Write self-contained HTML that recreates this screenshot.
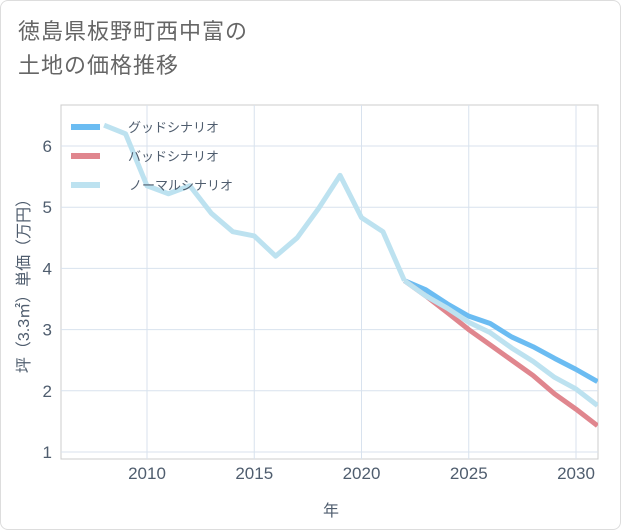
<!DOCTYPE html>
<html><head><meta charset="utf-8"><style>
body{margin:0;background:#fff;}
#wrap{position:relative;width:621px;height:530px;box-sizing:border-box;border:1px solid #ddd;border-radius:8px;overflow:hidden;font-family:"Liberation Sans","Noto Sans CJK JP",sans-serif;}
#title{position:absolute;left:17px;top:14px;font-size:22px;line-height:34px;color:#666;letter-spacing:1px;}
</style></head><body>
<div id="wrap">
<div id="title">徳島県板野町西中富の<br>土地の価格推移</div>
<svg id="chart" width="621" height="530" style="position:absolute;left:0;top:0"></svg>
</div>
<script>
const histYears=[2008,2009,2010,2011,2012,2013,2014,2015,2016,2017,2018,2019,2020,2021,2022];
const histValues=[6.34,6.2,5.35,5.22,5.35,4.9,4.6,4.53,4.2,4.5,4.98,5.52,4.83,4.6,3.8];
const futYears=[2022,2023,2024,2025,2026,2027,2028,2029,2030,2031];
const goodValues=[3.8,3.65,3.42,3.22,3.1,2.88,2.72,2.53,2.35,2.15];
const badValues=[3.8,3.55,3.28,3.0,2.75,2.5,2.25,1.95,1.7,1.43];
const normalValues=[3.8,3.55,3.35,3.12,2.95,2.7,2.48,2.22,2.03,1.76];
const xTicks=[2010,2015,2020,2025,2030];
const yTicks=[1,2,3,4,5,6];
const legendLabels=["グッドシナリオ","バッドシナリオ","ノーマルシナリオ"];

const L=60,R=597,T=104,B=458;
const x=v=>146+(v-2010)*(575-146)/20;
const y=v=>451-(v-1)*(451-145)/5;
const svg=document.getElementById('chart');
const NS='http://www.w3.org/2000/svg';
function mk(tag,attrs){const e=document.createElementNS(NS,tag);for(const k in attrs)e.setAttribute(k,attrs[k]);svg.appendChild(e);return e;}

const bg=mk('rect',{x:L,y:T,width:R-L,height:B-T,fill:'#fff',stroke:'#ccc'});


for(const t of xTicks){
  const g=mk('line',{x1:x(t),x2:x(t),y1:T,y2:B,stroke:'#d8e2ee'});
  
  
  const s=mk('text',{x:x(t),y:478,'text-anchor':'middle','font-size':'17',fill:'#4f5d6e'});
  s.textContent=t;
  
  
}
for(const t of yTicks){
  const g=mk('line',{x1:L,x2:R,y1:y(t),y2:y(t),stroke:'#d8e2ee'});
  
  
  const s=mk('text',{x:51,y:y(t)+6,'text-anchor':'end','font-size':'17',fill:'#4f5d6e'});
  s.textContent=t;
  
  
}
const xt=mk('text',{x:330,y:515,'text-anchor':'middle','font-size':'16',fill:'#4f5d6e'});
xt.textContent='年';


const yt=mk('text',{x:0,y:0,'text-anchor':'middle','font-size':'16',fill:'#4f5d6e',transform:'translate(28,281) rotate(-90)'});
yt.textContent='坪（3.3㎡）単価（万円）';



function line(xs,vs,color,name){
  const d=xs.map((v,i)=>(i?'L':'M')+x(v)+','+y(vs[i])).join(' ');
  const p=mk('path',{d:d,fill:'none',stroke:color,'stroke-width':'5','stroke-linejoin':'round'});
  
  
}
const clip=mk('clipPath',{id:'c'});
const cr=document.createElementNS(NS,'rect');cr.setAttribute('x',L);cr.setAttribute('y',T);cr.setAttribute('width',R-L);cr.setAttribute('height',B-T);clip.appendChild(cr);
line(futYears,goodValues,'#6bbcf2','good-scenario-line');
line(futYears,badValues,'#e0868e','bad-scenario-line');
line(futYears,normalValues,'#bde2f0','normal-scenario-line');
line(histYears,histValues,'#bde2f0','historical-line');
svg.querySelectorAll('path').forEach(p=>p.setAttribute('clip-path','url(#c)'));

const colors=['#6bbcf2','#e0868e','#bde2f0'];
legendLabels.forEach((lab,i)=>{
  const ly=126+i*29;
  const l=mk('line',{x1:70,x2:99,y1:ly,y2:ly,stroke:colors[i],'stroke-width':'6'});
  
  
  const t=mk('text',{x:i==2?128:127,y:ly+5,'font-size':'13',fill:'#4f5d6e'});
  t.textContent=lab;
  
  
});
</script>
</body></html>
